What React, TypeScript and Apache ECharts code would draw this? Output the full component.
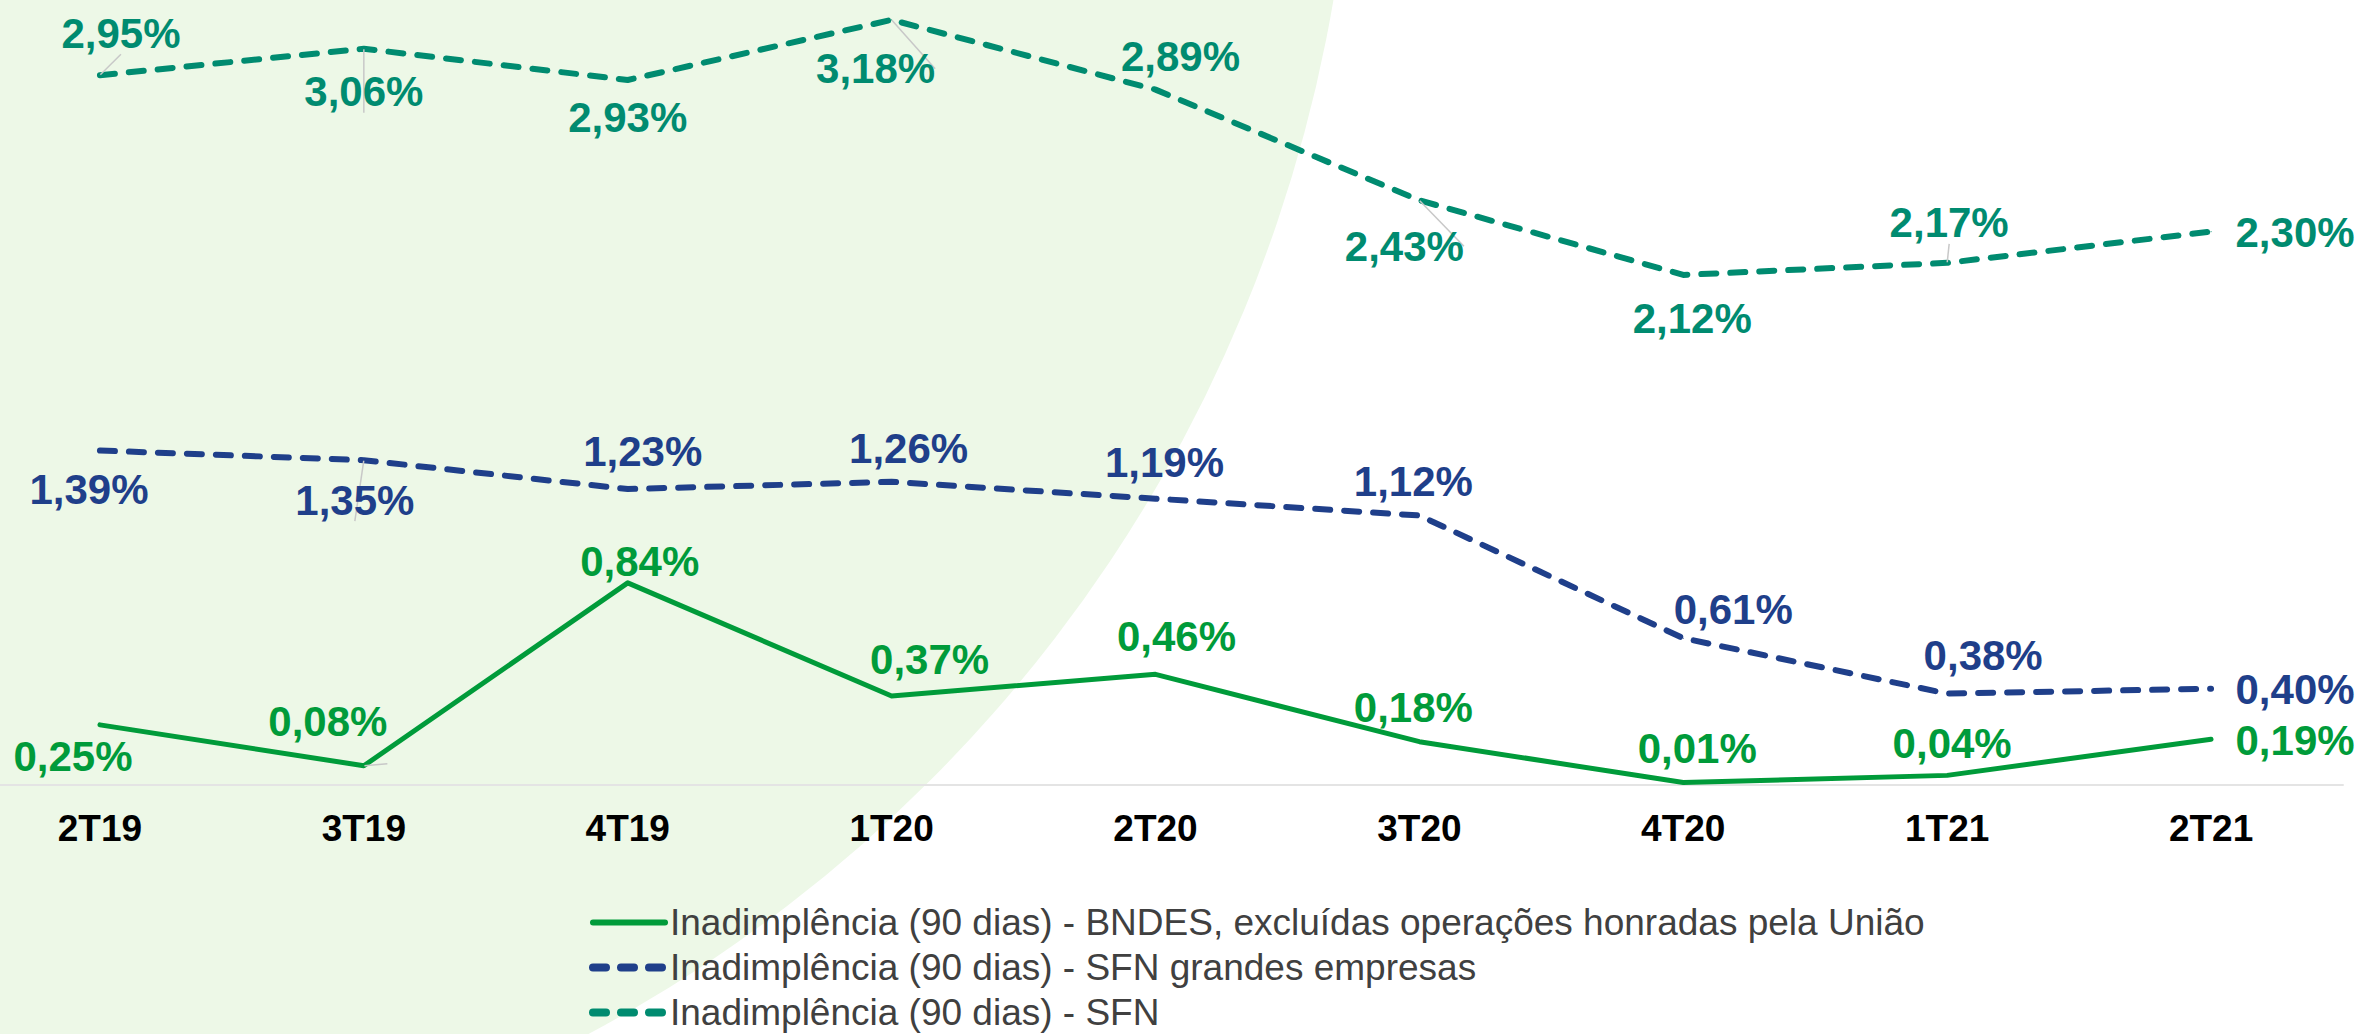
import React, { useEffect, useRef } from "react";
import * as echarts from "echarts";

const categories = ["2T19", "3T19", "4T19", "1T20", "2T20", "3T20", "4T20", "1T21", "2T21"];
const bndesValues = [0.25, 0.08, 0.84, 0.37, 0.46, 0.18, 0.01, 0.04, 0.19];
const sfnGrandesValues = [1.39, 1.35, 1.23, 1.26, 1.19, 1.12, 0.61, 0.38, 0.4];
const sfnValues = [2.95, 3.06, 2.93, 3.18, 2.89, 2.43, 2.12, 2.17, 2.3];
const seriesNames = [
  "Inadimplência (90 dias) - BNDES, excluídas operações honradas pela União",
  "Inadimplência (90 dias) - SFN grandes empresas",
  "Inadimplência (90 dias) - SFN",
];

// label offsets (px) from each point
const bndesLabelOffsets = [[-27, 32], [-36, -44], [12, -21], [38, -36], [21, -38], [-6, -34], [14, -34], [5, -32], [84, 1]];
const sfnGrandesLabelOffsets = [[-11, 39], [-9, 40], [15, -38], [17, -33], [9, -36], [-6, -34], [50, -29], [36, -38], [84, 1]];
const sfnLabelOffsets = [[21, -42], [0, 43], [0, 38], [-16, 49], [25, -33], [-15, 46], [9, 44], [2, -40], [84, 1]];
// points whose label has a small leader line
const bndesLeaders = [1];
const sfnGrandesLeaders = [1];
const sfnLeaders = [0, 1, 3, 5, 7];

const GREEN = "#009B3A";
const BLUE = "#1F3F8A";
const TEAL = "#008B70";
const FONT = "'Liberation Sans', Arial, sans-serif";
const DASH = [15, 14];

const fmt = (v: number) => v.toFixed(2).replace(".", ",") + "%";

function buildSeries(
  name: string,
  values: number[],
  offsets: number[][],
  leaders: number[],
  color: string,
  dashed: boolean,
  z: number
) {
  return {
    name,
    type: "line",
    z,
    data: values.map((v, i) => ({
      value: v,
      label: { offset: offsets[i] },
      labelLine: {
        show: leaders.includes(i),
        lineStyle: { color: "#C8C8C8", width: 1.5 },
      },
    })),
    symbol: "circle",
    symbolSize: 1,
    showSymbol: true,
    itemStyle: { color },
    lineStyle: {
      color,
      width: dashed ? 6 : 5,
      type: dashed ? DASH : "solid",
      cap: "round",
      join: "round",
    },
    label: {
      show: true,
      position: "inside",
      formatter: (p: any) => fmt(p.value),
      color,
      fontFamily: FONT,
      fontWeight: "bold",
      fontSize: 42,
    },
    emphasis: { disabled: true },
  };
}

export default function App() {
  const ref = useRef<HTMLDivElement>(null);
  useEffect(() => {
    document.body.style.margin = "0";
    const chart = echarts.init(ref.current!, null, { renderer: "svg" });
    const colors = [GREEN, BLUE, TEAL];
    chart.setOption({
      animation: false,
      backgroundColor: "#ffffff",
      graphic: [
        {
          type: "circle",
          z: -10,
          silent: true,
          shape: { cx: -94, cy: -243, r: 1448 },
          style: { fill: "#EDF8E7" },
        },
      ],
      grid: { left: -32, right: 20, top: 3, bottom: 249, containLabel: false, outerBoundsMode: "none" },
      xAxis: {
        type: "category",
        data: categories,
        boundaryGap: true,
        axisLine: { show: true, lineStyle: { color: "#E4E4E4", width: 2 } },
        axisTick: { show: false },
        axisLabel: {
          color: "#000000",
          fontFamily: FONT,
          fontWeight: "bold",
          fontSize: 37,
          margin: 25,
        },
        splitLine: { show: false },
      },
      yAxis: {
        type: "value",
        min: 0,
        max: 3.25,
        show: false,
        splitLine: { show: false },
      },
      legend: {
        orient: "vertical",
        left: 589,
        top: 904,
        width: 1500,
        height: 400,
        padding: 0,
        itemWidth: 72,
        itemHeight: 14,
        itemGap: 8,
        data: seriesNames.map((n, i) => ({
          name: n,
          itemStyle: { opacity: 0 },
          lineStyle: {
            color: colors[i],
            width: i === 0 ? 6 : 8,
            type: i === 0 ? "solid" : [13, 15],
            cap: "round",
          },
        })),
        textStyle: {
          color: "#404040",
          fontFamily: FONT,
          fontSize: 37,
          lineHeight: 34,
        },
      },
      series: [
        buildSeries(seriesNames[0], bndesValues, bndesLabelOffsets, bndesLeaders, GREEN, false, 4),
        buildSeries(seriesNames[1], sfnGrandesValues, sfnGrandesLabelOffsets, sfnGrandesLeaders, BLUE, true, 3),
        buildSeries(seriesNames[2], sfnValues, sfnLabelOffsets, sfnLeaders, TEAL, true, 2),
      ],
    });
    return () => chart.dispose();
  }, []);
  return (
    <div
      ref={ref}
      style={{ position: "absolute", left: 0, top: 0, width: 2363, height: 1034 }}
    />
  );
}
